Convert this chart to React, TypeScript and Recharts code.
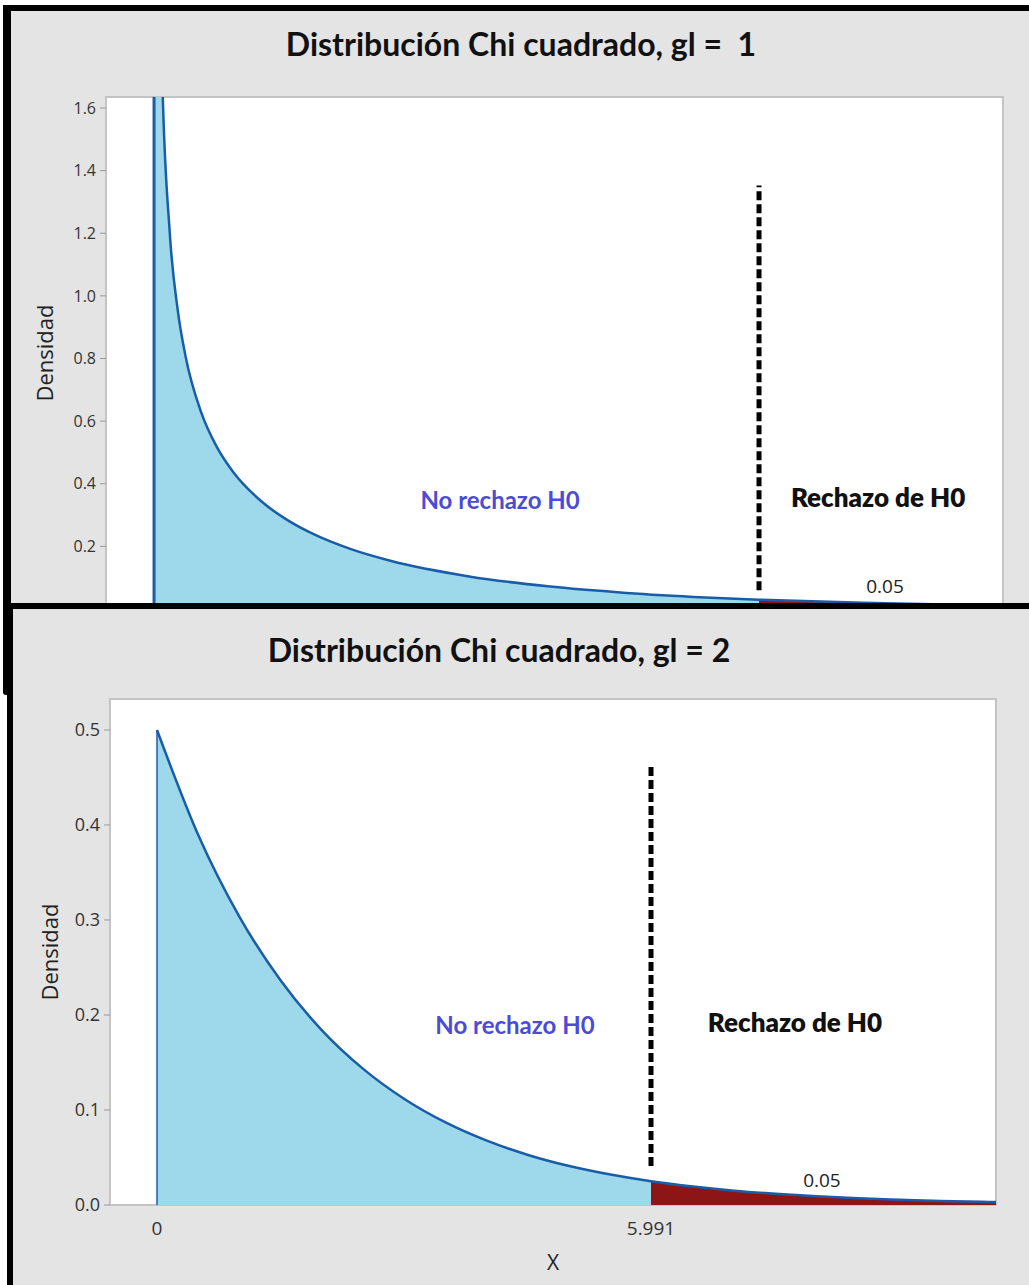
import { ComposedChart, Area, Line, XAxis, YAxis, CartesianGrid, ReferenceLine, ReferenceArea, ReferenceDot } from "recharts";

// gl = 1 : densidad chi cuadrado
const gl1X = [0, 0.02, 0.05, 0.1, 0.15, 0.2, 0.3, 0.4, 0.5, 0.7, 0.85, 1.0, 1.25, 1.5, 2, 2.5, 3, 3.5, 3.841, 4.5, 5, 5.39];
const gl1Density = [4.0, 2.79, 1.74, 1.2, 0.956, 0.807, 0.627, 0.516, 0.439, 0.336, 0.283, 0.242, 0.191, 0.154, 0.104, 0.0723, 0.0514, 0.0371, 0.0298, 0.0198, 0.0146, 0.0117];
const gl1Critical = 3.841;
const gl1YTicks = [0, 0.2, 0.4, 0.6, 0.8, 1.0, 1.2, 1.4, 1.6];

// gl = 2
const gl2X = [0, 0.5, 1, 1.5, 2, 2.5, 3, 3.5, 4, 4.5, 5, 5.5, 5.991, 6.5, 7, 7.5, 8, 8.5, 9, 9.5, 10, 10.18];
const gl2Density = [0.5, 0.3894, 0.3033, 0.2362, 0.1839, 0.1433, 0.1116, 0.0869, 0.0677, 0.0527, 0.041, 0.032, 0.025, 0.0194, 0.0151, 0.0118, 0.0092, 0.0071, 0.0056, 0.0043, 0.0034, 0.0031];
const gl2Critical = 5.991;
const gl2YTicks = [0, 0.1, 0.2, 0.3, 0.4, 0.5];
const gl2XTicks = [0, 5.991];

const alphaText = "0.05";
const acceptText = "No rechazo H0";
const rejectText = "Rechazo de H0";

const LINE = "#1b5ca8";
const ACCEPT_FILL = "#9dd9ea";
const REJECT_FILL = "#8d1515";
const FRAME = "#c4c4c4";
const NOTE_BLUE = "#4b4bd8";
const SANS = "'Open Sans', 'DejaVu Sans', sans-serif";
const TITLE_FONT = "Lato, 'Open Sans', sans-serif";

function buildRows(xs: number[], ys: number[], crit: number) {
  return xs.map((x, i) => ({
    x,
    density: ys[i],
    accept: x <= crit ? ys[i] : null,
    reject: x >= crit ? ys[i] : null,
  }));
}

const rows1 = buildRows(gl1X, gl1Density, gl1Critical);
const rows2 = buildRows(gl2X, gl2Density, gl2Critical);

type Note = { x: number; y: number; text: string; color: string; size: number; weight: number; font: string };

function noteDot(n: Note, key: string) {
  return (
    <ReferenceDot
      key={key}
      x={n.x}
      y={n.y}
      r={0}
      fill="none"
      stroke="none"
      shape={(p: any) => (
        <text x={p.cx} y={p.cy} textAnchor="middle" dominantBaseline="central" fill={n.color} fontSize={n.size} fontWeight={n.weight} fontFamily={n.font}>
          {n.text}
        </text>
      )}
    />
  );
}

export default function App() {
  const tick1 = { fill: "#333", fontSize: 16, fontFamily: SANS };
  const tick2 = { fill: "#333", fontSize: 18, fontFamily: SANS };

  const notes1: Note[] = [
    { x: 2.197, y: 0.351, text: acceptText, color: NOTE_BLUE, size: 24, weight: 700, font: TITLE_FONT },
    { x: 4.597, y: 0.358, text: rejectText, color: "#111", size: 26, weight: 800, font: TITLE_FONT },
    { x: 4.641, y: 0.073, text: alphaText, color: "#222", size: 19, weight: 400, font: SANS },
  ];
  const notes2: Note[] = [
    { x: 4.341, y: 0.1895, text: acceptText, color: NOTE_BLUE, size: 24, weight: 700, font: TITLE_FONT },
    { x: 7.737, y: 0.1926, text: rejectText, color: "#111", size: 26, weight: 800, font: TITLE_FONT },
    { x: 8.064, y: 0.0263, text: alphaText, color: "#222", size: 19, weight: 400, font: SANS },
  ];

  return (
    <div style={{ position: "absolute", left: 0, top: 0, width: 1029, height: 1285, background: "#fff", overflow: "hidden" }}>
      {/* panel gl = 1 */}
      <div style={{ position: "absolute", left: 3, top: 5, width: 1026, height: 598, background: "#000" }} />
      <div style={{ position: "absolute", left: 3, top: 5, width: 8, height: 690, background: "#000", borderRadius: "0 0 3px 3px" }} />
      <div style={{ position: "absolute", left: 11, top: 11, width: 1018, height: 592, background: "#e4e4e4" }} />
      <div style={{ position: "absolute", left: 11, top: 25, width: 1020, textAlign: "center", fontFamily: TITLE_FONT, fontWeight: 700, fontSize: 32, color: "#111", whiteSpace: "pre", lineHeight: "38px" }}>
        {"Distribución Chi cuadrado, gl =  1"}
      </div>
      <div style={{ position: "absolute", left: 0, top: 0, width: 1029, height: 603, overflow: "hidden" }}>
        <ComposedChart width={1029} height={640} data={rows1} margin={{ top: 97, right: 26, bottom: 31, left: 0 }}>
          <CartesianGrid horizontal={false} vertical={false} fill="#fff" />
          <XAxis type="number" dataKey="x" domain={[-0.305, 5.39]} allowDataOverflow hide />
          <YAxis
            type="number"
            domain={[0, 1.635]}
            allowDataOverflow
            ticks={gl1YTicks}
            width={106}
            tickSize={6}
            tickMargin={4}
            axisLine={false}
            tickLine={{ stroke: "#999" }}
            tick={tick1}
            tickFormatter={(v: number) => v.toFixed(1)}
            label={{ value: "Densidad", angle: -90, position: "insideLeft", offset: 45, fill: "#222", fontSize: 22, fontFamily: SANS, style: { textAnchor: "middle" } }}
          />
          <ReferenceArea x1={-0.305} x2={5.39} y1={0} y2={1.635} fill="none" fillOpacity={0} stroke={FRAME} strokeWidth={2} />
          <Area type="monotone" dataKey="accept" stroke="none" fill={ACCEPT_FILL} fillOpacity={1} isAnimationActive={false} dot={false} activeDot={false} />
          <Area type="monotone" dataKey="reject" stroke="none" fill={REJECT_FILL} fillOpacity={1} isAnimationActive={false} dot={false} activeDot={false} />
          <Line type="monotone" dataKey="density" stroke={LINE} strokeWidth={2.5} dot={false} activeDot={false} isAnimationActive={false} />
          <ReferenceLine x={0} stroke={LINE} strokeWidth={3} />
          <ReferenceLine segment={[{ x: gl1Critical, y: 0.06 }, { x: gl1Critical, y: 1.352 }]} stroke="#000" strokeWidth={5} strokeDasharray="9 4" />
          {notes1.map((n, i) => noteDot(n, "a" + i))}
        </ComposedChart>
      </div>

      {/* panel gl = 2 */}
      <div style={{ position: "absolute", left: 7, top: 603, width: 1022, height: 682, background: "#000" }} />
      <div style={{ position: "absolute", left: 13, top: 609, width: 1016, height: 676, background: "#e4e4e4" }} />
      <div style={{ position: "absolute", left: 0, top: 631, width: 998, textAlign: "center", fontFamily: TITLE_FONT, fontWeight: 700, fontSize: 32, color: "#111", whiteSpace: "pre", lineHeight: "38px" }}>
        {"Distribución Chi cuadrado, gl = 2"}
      </div>
      <div style={{ position: "absolute", left: 0, top: 609 }}>
        <ComposedChart width={1029} height={676} data={rows2} margin={{ top: 90, right: 33, bottom: 0, left: 0 }}>
          <CartesianGrid horizontal={false} vertical={false} fill="#fff" />
          <XAxis
            type="number"
            dataKey="x"
            domain={[-0.57, 10.175]}
            allowDataOverflow
            ticks={gl2XTicks}
            height={80}
            tickSize={0}
            tickMargin={17}
            axisLine={false}
            tickLine={false}
            tick={{ fill: "#333", fontSize: 19, fontFamily: SANS }}
            tickFormatter={(v: number) => (v === 0 ? "0" : v.toFixed(3))}
            label={{ value: "X", position: "insideBottom", offset: 15, fill: "#222", fontSize: 21, fontFamily: SANS }}
          />
          <YAxis
            type="number"
            domain={[0, 0.5326]}
            allowDataOverflow
            ticks={gl2YTicks}
            width={110}
            tickSize={6}
            tickMargin={4}
            axisLine={false}
            tickLine={{ stroke: "#999" }}
            tick={tick2}
            tickFormatter={(v: number) => v.toFixed(1)}
            label={{ value: "Densidad", angle: -90, position: "insideLeft", offset: 50, fill: "#222", fontSize: 22, fontFamily: SANS, style: { textAnchor: "middle" } }}
          />
          <ReferenceArea x1={-0.57} x2={10.175} y1={0} y2={0.5326} fill="none" fillOpacity={0} stroke={FRAME} strokeWidth={2} />
          <Area type="monotone" dataKey="accept" stroke="none" fill={ACCEPT_FILL} fillOpacity={1} isAnimationActive={false} dot={false} activeDot={false} />
          <Area type="monotone" dataKey="reject" stroke="none" fill={REJECT_FILL} fillOpacity={1} isAnimationActive={false} dot={false} activeDot={false} />
          <Line type="monotone" dataKey="density" stroke={LINE} strokeWidth={2.5} dot={false} activeDot={false} isAnimationActive={false} />
          <ReferenceLine segment={[{ x: 0, y: 0 }, { x: 0, y: 0.5 }]} stroke={LINE} strokeWidth={1.5} />
          <ReferenceLine segment={[{ x: gl2Critical, y: 0.041 }, { x: gl2Critical, y: 0.462 }]} stroke="#000" strokeWidth={5} strokeDasharray="9 4" />
          {notes2.map((n, i) => noteDot(n, "b" + i))}
        </ComposedChart>
      </div>
    </div>
  );
}
